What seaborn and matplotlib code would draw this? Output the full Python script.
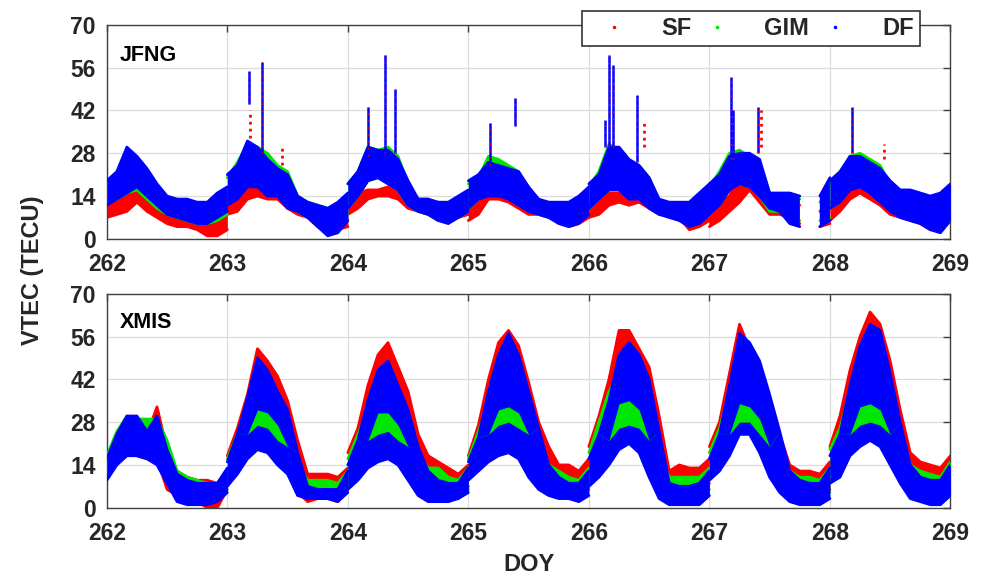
import numpy as np
import pandas as pd
import matplotlib
matplotlib.use("Agg")
import matplotlib.pyplot as plt
import seaborn as sns
from matplotlib.lines import Line2D

sns.set_theme(style="white")
plt.rcParams['font.family'] = ['Liberation Sans', 'DejaVu Sans']

nan = np.nan
DAYS = [262, 263, 264, 265, 266, 267, 268]
HOURS = [0, 2, 4, 6, 8, 10, 12, 14, 16, 18, 20, 22, 24]
SERIES = ["SF", "GIM", "DF"]
STATIONS = ["JFNG", "XMIS"]
YTICKS = [0, 14, 28, 42, 56, 70]
XTICKS = [262, 263, 264, 265, 266, 267, 268, 269]

# ---------------- JFNG (band lower / upper edges, one row per day) ----------
JFNG_SF_LO = [[7, 8, 9, 12, 9, 7, 5, 4, 4, 3, 1, 1, 3],
              [8, 9, 13, 14, 13, 13, 10, 8, 7, 4, 2, 3, 4],
              [8, 10, 13, 14, 14, 13, 10, 9, 8, 6, 6, 7, 8],
              [6, 8, 13, 13, 12, 10, 8, 8, 7, 6, 4, 5, 7],
              [7, 8, 11, 12, 11, 12, 10, 8, 8, 7, 3, 4, 6],
              [4, 6, 9, 12, 16, 12, 8, 8, 7, 5, nan, 4, 5],
              [6, 9, 13, 15, 13, 11, 8, 7, 6, 5, 3, 3, 6]]
JFNG_SF_HI = [[12, 14, 16, 17, 15, 12, 9, 8, 7, 7, 6, 8, 11],
              [13, 15, 17, 17, 16, 16, 15, 13, 11, 10, 8, 9, 11],
              [14, 15, 16, 16, 17, 16, 14, 13, 13, 11, 10, 11, 12],
              [12, 14, 16, 16, 15, 14, 12, 12, 11, 11, 10, 10, 12],
              [12, 12, 15, 15, 13, 15, 14, 12, 11, 10, 9, 10, 12],
              [10, 12, 14, 22, 22, 17, 12, 12, 12, 11, nan, 9, 12],
              [12, 14, 17, 20, 18, 15, 13, 11, 10, 9, 8, 8, 12]]
JFNG_GIM_LO = [[12, 13, 15, 16, 13, 10, 8, 7, 6, 5, 5, 6, 8],
               [12, 14, 17, 18, 15, 15, 11, 9, 7, 5, 3, 5, 8],
               [10, 14, 19, 20, 18, 16, 11, 9, 8, 6, 6, 7, 9],
               [10, 13, 15, 15, 14, 12, 9, 8, 7, 6, 5, 6, 8],
               [10, 13, 16, 17, 14, 14, 11, 8, 8, 7, 5, 6, 8],
               [8, 11, 17, 18, 17, 14, 9, 9, 7, 6, nan, 6, 7],
               [10, 12, 17, 17, 16, 13, 10, 8, 7, 6, 5, 5, 8]]
JFNG_GIM_HI = [[18, 21, 24, 24, 21, 16, 13, 12, 12, 11, 11, 13, 15],
               [20, 25, 31, 30, 28, 24, 22, 14, 12, 11, 10, 11, 14],
               [18, 22, 30, 29, 30, 27, 18, 13, 12, 12, 11, 13, 15],
               [18, 20, 27, 26, 24, 22, 16, 12, 12, 11, 11, 12, 15],
               [17, 22, 31, 29, 25, 24, 20, 12, 11, 11, 11, 13, 16],
               [17, 22, 28, 29, 27, 25, 15, 14, 14, 13, nan, 12, 17],
               [18, 21, 27, 28, 26, 24, 18, 14, 13, 12, 11, 12, 16]]
JFNG_DF_LO = [[11, 13, 15, 17, 14, 11, 8, 7, 6, 5, 5, 7, 9],
              [11, 13, 17, 17, 14, 14, 10, 9, 7, 4, 1, 2, 6],
              [10, 14, 19, 20, 18, 16, 11, 9, 8, 6, 5, 7, 9],
              [10, 13, 14, 14, 13, 11, 9, 8, 7, 5, 4, 5, 8],
              [10, 13, 16, 16, 13, 13, 10, 8, 7, 6, 4, 5, 8],
              [8, 11, 16, 18, 17, 14, 10, 9, 5, 4, nan, 4, 6],
              [10, 12, 16, 17, 15, 12, 9, 7, 6, 5, 3, 2, 6]]
JFNG_DF_HI = [[19, 22, 30, 27, 23, 18, 14, 13, 13, 12, 12, 15, 17],
              [21, 24, 32, 30, 26, 23, 21, 14, 12, 11, 10, 12, 15],
              [18, 22, 30, 29, 29, 26, 19, 13, 13, 12, 12, 14, 16],
              [19, 21, 25, 24, 23, 22, 17, 13, 12, 12, 12, 14, 17],
              [18, 21, 30, 30, 26, 24, 20, 13, 12, 12, 12, 15, 18],
              [18, 21, 27, 28, 28, 26, 15, 15, 15, 14, nan, 14, 20],
              [19, 22, 27, 27, 25, 23, 19, 16, 16, 15, 14, 15, 18]]
# JFNG DF has no inner gap
JFNG_DF_GAP_LO = [[nan] * 13 for _ in range(7)]
JFNG_DF_GAP_HI = [[nan] * 13 for _ in range(7)]

# short-lived spikes at JFNG
SPIKE_DOY = [263.18, 263.29, 264.17, 264.31, 264.39, 265.18, 265.39, 266.13,
             266.17, 266.20, 266.40, 267.18, 267.20, 267.40, 268.18]
SPIKE_LO = [44, 28, 27, 28, 28, 24, 37, 30, 30, 30, 25, 26, 26, 28, 28]
SPIKE_HI = [55, 58, 43, 60, 49, 38, 46, 39, 60, 57, 47, 53, 42, 43, 43]
RSPIKE_DOY = [263.19, 263.45, 266.46, 267.43, 268.45]
RSPIKE_LO = [33, 24, 30, 30, 26]
RSPIKE_HI = [42, 30, 39, 42, 31]

# ---------------- XMIS ----------------
XMIS_SF_LO = [[13, 16, 18, 17, 16, 16, 6, 4, 3, 2, 0, 0, 6],
              [9, 13, 17, 20, 21, 16, 12, 5, 2, 3, 3, 2, 6],
              [8, 12, 16, 18, 19, 16, 10, 8, 7, 6, 5, 3, 7],
              [10, 13, 16, 19, 22, 18, 12, 9, 7, 6, 6, 4, 6],
              [9, 12, 16, 28, 28, 26, 14, 8, 6, 7, 7, 5, 8],
              [10, 14, 20, 26, 28, 20, 12, 6, 4, 2, 2, 2, 6],
              [11, 14, 20, 24, 28, 26, 18, 10, 7, 6, 6, 5, 9]]
XMIS_SF_HI = [[17, 22, 28, 29, 24, 33, 19, 12, 10, 9, 9, 8, 12],
              [17, 26, 37, 52, 48, 43, 35, 22, 11, 11, 11, 10, 13],
              [18, 26, 40, 50, 54, 46, 38, 24, 17, 15, 13, 11, 14],
              [17, 27, 42, 54, 58, 53, 41, 28, 20, 14, 14, 12, 16],
              [20, 30, 42, 58, 58, 52, 46, 30, 12, 14, 13, 13, 16],
              [20, 28, 44, 60, 52, 44, 36, 24, 14, 12, 12, 11, 15],
              [20, 30, 45, 56, 64, 60, 48, 32, 18, 15, 14, 13, 17]]
XMIS_GIM_LO = [[12, 16, 18, 18, 17, 15, 10, 6, 5, 4, 4, 4, 6],
               [8, 12, 17, 20, 20, 16, 13, 7, 6, 5, 5, 4, 6],
               [7, 10, 15, 17, 17, 14, 11, 6, 5, 5, 4, 4, 6],
               [10, 13, 16, 19, 20, 18, 13, 8, 6, 5, 5, 4, 6],
               [9, 11, 15, 24, 26, 24, 14, 6, 5, 5, 5, 4, 6],
               [10, 13, 18, 25, 26, 20, 13, 8, 6, 4, 4, 4, 5],
               [10, 12, 19, 22, 26, 24, 17, 10, 7, 5, 5, 4, 7]]
XMIS_GIM_HI = [[17, 25, 30, 29, 29, 29, 22, 12, 10, 9, 8, 8, 12],
               [16, 24, 33, 38, 40, 35, 30, 14, 9, 9, 9, 8, 12],
               [16, 24, 32, 34, 35, 33, 30, 18, 13, 13, 10, 9, 13],
               [16, 25, 34, 38, 40, 38, 30, 22, 14, 12, 10, 9, 13],
               [18, 28, 38, 44, 48, 40, 32, 18, 10, 10, 10, 10, 13],
               [18, 26, 38, 44, 42, 38, 34, 20, 12, 10, 10, 9, 13],
               [19, 26, 38, 44, 48, 46, 40, 26, 14, 12, 11, 10, 15]]
XMIS_DF_LO = [[9, 14, 17, 17, 16, 14, 8, 2, 1, 1, 1, 2, 5],
              [7, 11, 16, 19, 18, 14, 11, 4, 3, 3, 3, 2, 5],
              [6, 9, 13, 15, 16, 14, 9, 4, 2, 2, 2, 3, 5],
              [9, 12, 15, 17, 18, 16, 10, 6, 4, 3, 3, 2, 4],
              [7, 10, 14, 19, 21, 18, 10, 3, 1, 1, 1, 1, 4],
              [9, 12, 17, 24, 24, 18, 10, 5, 2, 1, 1, 1, 3],
              [8, 10, 17, 20, 22, 20, 14, 8, 3, 2, 1, 1, 4]]
XMIS_DF_HI = [[16, 24, 30, 30, 25, 30, 19, 11, 9, 8, 8, 8, 13],
              [15, 24, 36, 49, 45, 38, 32, 18, 7, 6, 6, 6, 12],
              [14, 22, 35, 45, 48, 40, 32, 20, 12, 9, 8, 8, 13],
              [15, 23, 38, 50, 57, 50, 38, 26, 14, 10, 8, 8, 12],
              [16, 24, 35, 50, 54, 50, 42, 25, 8, 7, 7, 8, 12],
              [16, 24, 40, 57, 54, 48, 37, 25, 12, 9, 8, 8, 13],
              [17, 24, 40, 53, 60, 58, 44, 28, 14, 10, 9, 9, 14]]
# range inside the DF band that no DF track covers (GIM / SF show through)
XMIS_DF_GAP_LO = [[nan] * 13,
                  [nan, nan, 24, 27, 26, 22, 20, nan, nan, nan, nan, nan, nan],
                  [nan, nan, 22, 24, 25, 22, 20, nan, nan, nan, nan, nan, nan],
                  [nan, nan, 24, 27, 28, 26, 24, nan, nan, nan, nan, nan, nan],
                  [nan, nan, 22, 26, 27, 26, 22, nan, nan, nan, nan, nan, nan],
                  [nan, nan, 24, 28, 28, 24, 20, nan, nan, nan, nan, nan, nan],
                  [nan, nan, 24, 27, 28, 27, 24, nan, nan, nan, nan, nan, nan]]
XMIS_DF_GAP_HI = [[nan] * 13,
                  [nan, nan, 24, 32, 31, 27, 20, nan, nan, nan, nan, nan, nan],
                  [nan, nan, 22, 31, 31, 27, 20, nan, nan, nan, nan, nan, nan],
                  [nan, nan, 24, 32, 33, 31, 24, nan, nan, nan, nan, nan, nan],
                  [nan, nan, 22, 34, 35, 32, 22, nan, nan, nan, nan, nan, nan],
                  [nan, nan, 24, 34, 33, 29, 20, nan, nan, nan, nan, nan, nan],
                  [nan, nan, 24, 33, 34, 32, 24, nan, nan, nan, nan, nan, nan]]

COLORS = {"SF": "#ff0000", "GIM": "#00e600", "DF": "#0000ff"}

BANDS = {
    ("JFNG", "SF"): (JFNG_SF_LO, JFNG_SF_HI, None, None),
    ("JFNG", "GIM"): (JFNG_GIM_LO, JFNG_GIM_HI, None, None),
    ("JFNG", "DF"): (JFNG_DF_LO, JFNG_DF_HI, JFNG_DF_GAP_LO, JFNG_DF_GAP_HI),
    ("XMIS", "SF"): (XMIS_SF_LO, XMIS_SF_HI, None, None),
    ("XMIS", "GIM"): (XMIS_GIM_LO, XMIS_GIM_HI, None, None),
    ("XMIS", "DF"): (XMIS_DF_LO, XMIS_DF_HI, XMIS_DF_GAP_LO, XMIS_DF_GAP_HI),
}

rows = []
for (st, se), (lo, hi, glo, ghi) in BANDS.items():
    for di, d in enumerate(DAYS):
        for k, h in enumerate(HOURS):
            rows.append(dict(station=st, series=se, day=d, doy=d + h / 24.0,
                             lo=lo[di][k], hi=hi[di][k],
                             gap_lo=glo[di][k] if glo else nan,
                             gap_hi=ghi[di][k] if ghi else nan))
df = pd.DataFrame(rows)
df["top1"] = df["gap_lo"].fillna(df["hi"])
df["bot2"] = df["gap_hi"].fillna(df["hi"])

long = df.melt(id_vars=["station", "series", "day", "doy"], value_vars=["lo", "hi"],
               var_name="bound", value_name="vtec")
long = long.sort_values(["station", "series", "bound", "doy"]).reset_index(drop=True)
# split a track where data are missing so lines do not bridge the gap
seg = long.groupby(["station", "series", "bound", "day"])["vtec"].transform(
    lambda v: v.isna().cumsum())
long["track"] = long["day"].astype(str) + long["bound"] + "_" + seg.astype(str)
long = long.dropna(subset=["vtec"])

fig = plt.figure(figsize=(9.89, 5.77), dpi=100)
ax_top = fig.add_axes([0.108, 0.586, 0.853, 0.371])
ax_bot = fig.add_axes([0.108, 0.120, 0.853, 0.371])

for ax, st in zip([ax_top, ax_bot], STATIONS):
    for zi, se in enumerate(SERIES):
        c = COLORS[se]
        sub = df[(df.station == st) & (df.series == se)]
        for d in DAYS:
            s = sub[sub.day == d]
            ax.fill_between(s.doy, s.lo, s.top1, color=c, linewidth=0,
                            zorder=2 + zi)
            ax.fill_between(s.doy, s.bot2, s.hi, color=c, linewidth=0,
                            zorder=2 + zi)
        lsub = long[(long.station == st) & (long.series == se)]
        sns.lineplot(data=lsub, x="doy", y="vtec", units="track", estimator=None,
                     sort=False, color=c, linewidth=2.0, ax=ax, zorder=2.5 + zi,
                     legend=False)
    if st == "JFNG":
        ax.vlines(SPIKE_DOY, SPIKE_LO, SPIKE_HI, color=COLORS["DF"], linewidth=1.8,
                  zorder=6)
        ax.vlines(SPIKE_DOY, SPIKE_LO, SPIKE_HI, color=COLORS["SF"], linewidth=1.0,
                  linestyles=(0, (1, 4)), zorder=6.5)
        ax.vlines(RSPIKE_DOY, RSPIKE_LO, RSPIKE_HI, color=COLORS["SF"], linewidth=2.0,
                  linestyles=(0, (1, 1.5)), zorder=6)

    ax.set_xlim(262, 269)
    ax.set_ylim(0, 70)
    ax.set_xticks(XTICKS)
    ax.set_yticks(YTICKS)
    ax.set_xticklabels([str(t) for t in XTICKS], fontsize=16.5, fontweight="bold",
                       color="#262626")
    ax.set_yticklabels([str(t) for t in YTICKS], fontsize=16.5, fontweight="bold",
                       color="#262626")
    ax.set_xlabel("")
    ax.set_ylabel("")
    ax.grid(True, color="#dcdcdc", linewidth=0.9, zorder=0)
    ax.set_axisbelow(True)
    ax.tick_params(axis="x", direction="in", length=5, width=1, top=True,
                   color="#404040", pad=10)
    ax.tick_params(axis="y", direction="in", length=5, width=1, right=True,
                   color="#404040", pad=8)
    for sp in ax.spines.values():
        sp.set_color("#404040")
        sp.set_linewidth(1.0)
    ax.text(0.015, 0.905 if st == "JFNG" else 0.915, st, transform=ax.transAxes,
            fontsize=15.5, fontweight="bold", va="top", ha="left", color="black",
            zorder=10)

fig.text(0.033, 0.532, "VTEC (TECU)", rotation=90, ha="center", va="center",
         fontsize=17, fontweight="bold", color="#262626")
fig.text(0.535, 0.022, "DOY", ha="center", va="center", fontsize=17,
         fontweight="bold", color="#262626")

handles = [Line2D([], [], linestyle="none", marker=".", markersize=3,
                  color=COLORS[s]) for s in SERIES]
leg = fig.legend(handles, SERIES, loc="lower left", ncol=3, mode="expand",
                 bbox_to_anchor=(582 / 989, 1 - 46 / 577, 338 / 989, 37 / 577),
                 frameon=True, fancybox=False, prop=dict(size=17, weight="bold"),
                 handlelength=2.2, handletextpad=0.9, borderaxespad=0,
                 borderpad=0.25, columnspacing=1.0)
leg.get_frame().set_edgecolor("#333333")
leg.get_frame().set_linewidth(1.2)
leg.get_frame().set_alpha(1)

fig.savefig("out.png", dpi=100)
